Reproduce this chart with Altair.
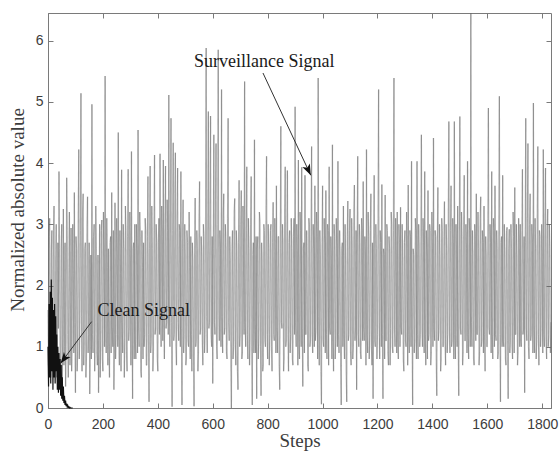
import altair as alt
import pandas as pd

# ---------------- data ----------------
STEP = 2  # steps between stored surveillance samples
surv_values = [
    1.6, 0.7, 2.8, 3.1, 0.9, 0.5, 2.5, 2.9, 0.6, 1.0, 2.9, 3.3, 1.1, 0.6, 2.4, 3.0, 0.5, 0.9, 2.7, 1.3,
    3.86, 2.6, 0.8, 0.4, 2.6, 3.0, 0.33, 1.2, 3.25, 0.7, 1.0, 2.7, 0.35, 1.0, 3.76, 2.9, 1.2, 0.5, 2.3, 3.2,
    0.7, 1.1, 2.94, 0.6, 1.1, 3.0, 2.2, 0.9, 3.52, 1.4, 0.25, 2.8, 2.6, 0.6, 0.9, 3.1, 4.22, 0.8, 1.3, 2.9,
    5.14, 1.5, 0.6, 3.2, 3.5, 0.7, 1.0, 2.6, 2.7, 0.5, 0.8, 3.0, 3.45, 0.9, 1.2, 2.7, 0.23, 1.0, 2.5, 0.8,
    4.96, 1.2, 0.9, 2.8, 3.0, 0.6, 1.4, 3.3, 2.6, 0.9, 0.7, 2.5, 0.25, 1.1, 3.0, 0.5, 1.1, 2.9, 3.07, 0.8,
    0.6, 3.2, 2.4, 1.0, 5.42, 1.6, 0.9, 3.1, 2.3, 0.7, 2.6, 1.0, 0.5, 2.7, 2.8, 0.9, 3.52, 1.3, 1.0, 2.9,
    0.3, 1.0, 3.35, 0.8, 1.2, 3.1, 2.5, 1.0, 4.5, 1.2, 0.7, 2.9, 2.2, 0.6, 3.89, 1.4, 0.9, 3.0, 2.6, 0.5,
    1.1, 3.3, 2.9, 0.9, 0.6, 2.8, 3.9, 1.1, 1.3, 3.2, 2.4, 0.7, 4.19, 1.5, 0.15, 2.6, 2.7, 0.8, 3.0, 1.1,
    0.8, 3.0, 2.5, 0.9, 4.54, 1.3, 1.0, 3.2, 2.8, 0.6, 0.5, 2.9, 2.3, 0.8, 2.7, 1.0, 1.2, 3.1, 2.9, 0.7,
    0.7, 2.8, 3.78, 1.2, 0.1, 2.6, 3.95, 0.9, 1.1, 3.3, 2.6, 0.6, 0.9, 2.9, 4.13, 1.2, 1.3, 3.0, 2.7, 0.8,
    0.6, 2.7, 3.1, 1.2, 4.15, 1.6, 1.0, 3.3, 2.8, 1.1, 4.05, 1.5, 0.8, 3.0, 3.95, 1.3, 1.4, 3.4, 2.9, 1.2,
    5.11, 1.7, 1.0, 3.2, 4.73, 1.4, 0.02, 2.9, 4.33, 1.1, 1.2, 3.5, 4.17, 1.0, 0.7, 3.1, 3.92, 1.4, 1.1, 3.0,
    2.9, 1.0, 3.86, 1.3, 0.05, 2.6, 3.4, 0.9, 1.2, 3.0, 2.5, 0.7, 0.8, 2.9, 2.7, 1.1, 1.0, 3.2, 2.3, 0.8,
    2.8, 1.2, 0.6, 2.7, 2.4, 0.9, 0.03, 2.5, 3.43, 1.0, 1.1, 2.9, 2.6, 0.6, 0.9, 3.1, 3.7, 1.2, 1.3, 2.8,
    2.5, 1.1, 0.7, 3.0, 2.8, 0.9, 1.2, 3.2, 5.88, 1.5, 0.9, 3.1, 4.84, 1.3, 1.4, 3.3, 4.77, 1.2, 1.0, 2.8,
    0.4, 2.6, 4.46, 1.4, 1.2, 3.4, 4.32, 1.0, 0.8, 3.0, 5.85, 1.6, 1.1, 2.9, 2.6, 1.0, 5.2, 1.5, 0.9, 3.1,
    3.5, 1.2, 1.3, 3.0, 2.7, 0.9, 0.8, 3.1, 4.73, 1.4, 1.1, 2.8, 2.4, 0.7, 0.0, 2.6, 2.9, 0.8, 1.0, 3.2,
    3.42, 1.1, 0.7, 2.9, 2.6, 0.6, 0.3, 2.7, 3.72, 1.0, 1.2, 3.0, 3.55, 0.8, 0.9, 3.3, 2.5, 1.2, 5.33, 1.4,
    1.0, 2.9, 3.94, 1.2, 0.8, 3.1, 2.6, 0.7, 1.1, 3.0, 3.78, 1.0, 0.05, 2.5, 2.7, 0.9, 4.38, 1.3, 0.9, 2.8,
    0.15, 2.6, 2.8, 0.8, 1.2, 3.2, 3.05, 1.0, 0.2, 2.7, 2.4, 0.6, 0.7, 3.0, 2.9, 1.1, 1.0, 3.3, 4.11, 1.2,
    0.8, 3.0, 2.6, 0.7, 1.2, 2.9, 3.0, 1.0, 0.6, 2.7, 3.36, 1.2, 1.1, 3.1, 2.5, 0.9, 3.63, 1.3, 0.9, 2.8,
    2.8, 0.7, 0.3, 2.6, 4.6, 1.4, 1.3, 3.0, 2.7, 0.6, 0.8, 3.2, 3.94, 1.0, 1.1, 2.9, 3.88, 1.2, 0.6, 2.7,
    2.9, 0.9, 1.2, 3.1, 2.6, 0.8, 0.7, 2.8, 3.1, 1.2, 4.92, 1.4, 1.0, 3.0, 2.5, 0.7, 4.05, 1.1, 0.8, 3.2,
    2.9, 1.0, 3.93, 1.3, 0.35, 2.6, 2.7, 0.9, 3.8, 1.2, 1.2, 2.9, 2.4, 0.7, 0.6, 3.1, 3.0, 1.0, 1.1, 2.8,
    4.27, 1.2, 0.9, 3.0, 2.6, 1.0, 3.63, 1.1, 1.3, 3.2, 2.8, 0.8, 5.39, 1.5, 0.7, 2.9, 2.5, 0.6, 0.06, 2.7,
    3.63, 1.1, 1.0, 3.1, 2.7, 0.9, 3.55, 1.2, 0.8, 3.0, 2.9, 0.7, 3.94, 1.3, 1.2, 2.8, 2.4, 0.8, 4.3, 1.1,
    0.6, 3.0, 2.8, 0.8, 1.1, 3.1, 2.6, 1.0, 4.03, 1.2, 0.9, 2.9, 2.5, 0.7, 0.05, 2.6, 2.7, 1.0, 3.3, 1.2,
    0.8, 3.0, 2.4, 0.6, 0.1, 2.8, 3.38, 1.1, 1.2, 2.9, 3.25, 0.9, 0.7, 3.1, 2.6, 0.8, 1.0, 3.2, 3.64, 1.1,
    1.3, 2.9, 0.3, 2.7, 4.11, 1.2, 1.0, 3.0, 2.7, 0.9, 0.8, 3.1, 2.9, 1.1, 3.7, 1.3, 1.1, 2.8, 2.5, 0.7,
    4.22, 1.2, 0.9, 3.2, 2.8, 0.8, 1.2, 2.9, 3.5, 1.0, 0.7, 2.7, 0.15, 2.5, 3.8, 1.1, 1.0, 3.0, 2.6, 0.8,
    1.2, 3.1, 5.2, 1.4, 0.8, 2.9, 2.7, 1.0, 3.65, 1.2, 0.15, 2.6, 2.5, 0.8, 3.48, 1.1, 1.1, 3.0, 2.9, 0.9,
    0.7, 2.8, 2.6, 0.7, 1.3, 3.2, 3.0, 1.0, 0.9, 2.9, 5.39, 1.3, 1.0, 3.1, 2.5, 0.9, 3.2, 1.1, 0.8, 3.0,
    2.7, 1.0, 3.28, 1.3, 1.2, 3.0, 2.4, 0.8, 0.6, 2.7, 2.9, 1.1, 1.0, 3.2, 2.6, 0.7, 3.64, 1.2, 0.9, 2.9,
    2.8, 1.0, 4.03, 1.3, 0.05, 2.6, 2.5, 0.9, 1.1, 3.1, 2.9, 0.8, 4.03, 1.2, 0.8, 3.0, 2.6, 1.0, 1.2, 2.8,
    4.46, 1.3, 1.0, 3.1, 2.7, 0.9, 3.86, 1.2, 0.7, 2.9, 2.5, 0.8, 3.55, 1.1, 1.2, 3.0, 2.9, 0.7, 0.9, 3.2,
    2.6, 1.0, 4.41, 1.3, 1.1, 2.9, 2.8, 0.8, 0.2, 2.7, 3.6, 1.1, 1.3, 3.0, 2.5, 0.6, 0.8, 3.1, 2.9, 1.0,
    1.0, 2.8, 3.37, 1.1, 0.7, 3.0, 2.6, 0.9, 1.2, 3.2, 4.68, 1.3, 0.9, 2.9, 3.63, 1.0, 1.1, 3.1, 2.7, 0.8,
    4.68, 1.2, 0.8, 3.0, 2.5, 1.0, 3.3, 1.1, 0.2, 2.6, 4.76, 1.3, 1.2, 3.2, 2.8, 0.7, 0.9, 3.0, 3.8, 1.1,
    1.1, 3.0, 2.6, 0.9, 4.03, 1.2, 0.8, 3.1, 2.9, 1.0, 6.45, 1.4, 1.0, 2.9, 2.5, 0.8, 0.7, 3.0, 2.8, 1.1,
    3.5, 1.2, 1.2, 3.2, 2.6, 0.7, 0.9, 3.1, 3.45, 1.0, 1.1, 2.9, 2.7, 0.9, 3.3, 1.2, 0.6, 2.8, 2.5, 1.0,
    1.0, 3.1, 4.9, 1.3, 1.2, 3.0, 2.7, 0.9, 3.86, 1.2, 0.8, 3.1, 2.9, 1.0, 3.63, 1.2, 1.1, 2.9, 2.6, 0.8,
    0.9, 3.2, 5.09, 1.2, 0.1, 2.7, 2.8, 1.0, 3.8, 1.1, 1.0, 3.0, 2.5, 0.8, 0.7, 2.9, 2.95, 1.1, 0.15, 2.6,
    2.92, 0.9, 1.1, 3.0, 2.6, 1.0, 0.8, 3.2, 2.8, 0.9, 3.6, 1.2, 1.2, 3.0, 2.5, 0.7, 0.9, 3.1, 2.7, 1.0,
    3.0, 1.1, 1.0, 2.9, 3.9, 1.2, 1.3, 2.8, 0.25, 2.7, 4.73, 1.3, 1.1, 3.1, 4.32, 1.0, 0.8, 3.0, 3.5, 1.1,
    1.2, 3.0, 2.7, 0.9, 4.98, 1.3, 0.9, 3.1, 2.6, 0.8, 1.1, 3.2, 4.27, 1.2, 0.7, 2.9, 2.8, 1.0, 1.3, 3.0,
    2.5, 0.9, 4.22, 1.2, 1.0, 3.1, 3.92, 1.1, 0.8, 2.9, 3.25, 1.0, 1.2, 3.0, 2.6, 0.9, 1.4,
]

CLEAN_STEP = 2
clean_values = [
    1.0, 0.35, 1.7, 0.5, 1.9, 0.4, 2.1, 0.6, 1.8, 0.3, 1.6, 0.5, 1.7, 0.4, 1.5, 0.6,
    1.2, 0.3, 1.0, 0.25, 0.9, 0.3, 0.8, 0.2, 0.7, 0.15, 0.5, 0.12,
    0.35, 0.08, 0.2, 0.05, 0.12, 0.03, 0.07, 0.02, 0.04, 0.01, 0.02, 0.0, 0.01, 0.0, 0.0, 0.0, 0.0, 0.0,
]

x_ticks = [0, 200, 400, 600, 800, 1000, 1200, 1400, 1600, 1800]
y_ticks = [0, 1, 2, 3, 4, 5, 6]
x_domain = [0, 1832]
y_domain = [0, 6.45]
x_title = "Steps"
y_title = ["Normalized absolute value"]

ann_labels = ["Surveillance Signal", "Clean Signal"]
ann_x = [532, 180]
ann_y = [5.65, 1.58]
arrow_x0 = [783, 159]
arrow_y0 = [5.47, 1.41]
arrow_x1 = [957, 46]
arrow_y1 = [3.80, 0.73]
arrow_angle = [155, 217]

# ---------------- tables ----------------
surv = pd.DataFrame({"step": [i * STEP for i in range(len(surv_values))], "value": surv_values})
surv["prev_step"] = surv["step"].shift(1)
surv["prev_value"] = surv["value"].shift(1)
surv = surv.dropna()

clean = pd.DataFrame({"step": [i * CLEAN_STEP for i in range(len(clean_values))], "value": clean_values})
ann = pd.DataFrame({"label": ann_labels, "x": ann_x, "y": ann_y})
arrows = pd.DataFrame({"x0": arrow_x0, "y0": arrow_y0, "x1": arrow_x1, "y1": arrow_y1, "angle": arrow_angle})
tick_df = pd.DataFrame({"x": [0], "y": [0]})
ytitle_df = pd.DataFrame({"label": y_title})

# ---------------- style ----------------
AXIS_GRAY = "#7a7a7a"
LABEL_GRAY = "#3c3c3c"
SANS = "Liberation Sans"
SERIF = "Liberation Serif"

xs = alt.Scale(domain=x_domain, nice=False, zero=False)
ys = alt.Scale(domain=y_domain, nice=False, zero=False)

x_main = alt.Axis(values=x_ticks, format="d", ticks=False, tickSize=0, labelFont=SANS, labelFontSize=14,
                  labelColor=LABEL_GRAY, labelPadding=9, domainColor=AXIS_GRAY, grid=False,
                  title=x_title, titleFont=SERIF, titleFontSize=19, titleFontWeight="normal",
                  titleColor=LABEL_GRAY, titlePadding=0, labelFlush=False)
y_main = alt.Axis(values=y_ticks, format="d", ticks=False, tickSize=0, labelFont=SANS, labelFontSize=14,
                  labelColor=LABEL_GRAY, labelPadding=5, domainColor=AXIS_GRAY, grid=False,
                  title="", labelFlush=False)

surv_layer = alt.Chart(surv).mark_rule(color="#666666", opacity=0.48, strokeWidth=1.2).encode(
    x=alt.X("prev_step:Q", scale=xs, axis=x_main),
    x2="step:Q",
    y=alt.Y("prev_value:Q", scale=ys, axis=y_main),
    y2="value:Q",
)

clean_layer = alt.Chart(clean).mark_line(color="#111111", strokeWidth=1.2).encode(
    x=alt.X("step:Q", scale=xs, axis=None),
    y=alt.Y("value:Q", scale=ys, axis=None),
)

arrow_lines = alt.Chart(arrows).mark_rule(color="#333333", strokeWidth=1).encode(
    x=alt.X("x0:Q", scale=xs, axis=None),
    y=alt.Y("y0:Q", scale=ys, axis=None),
    x2="x1:Q",
    y2="y1:Q",
)

arrow_heads = alt.Chart(arrows).mark_point(
    shape="M0,0L-0.6,1.6L0,1.2L0.6,1.6Z", filled=True, color="#111111", size=190, opacity=1
).encode(
    x=alt.X("x1:Q", scale=xs, axis=None),
    y=alt.Y("y1:Q", scale=ys, axis=None),
    angle=alt.Angle("angle:Q", scale=None),
)

ann_text = alt.Chart(ann).mark_text(align="left", baseline="middle", font=SERIF, fontSize=18,
                                    color="#1a1a1a").encode(
    x=alt.X("x:Q", scale=xs, axis=None),
    y=alt.Y("y:Q", scale=ys, axis=None),
    text="label:N",
)

# y-axis title drawn as rotated text beside the axis
ytitle_layer = alt.Chart(ytitle_df).mark_text(
    align="center", baseline="middle", angle=270, font=SERIF, fontSize=19, color=LABEL_GRAY
).encode(
    x=alt.value(-30),
    y=alt.value(197),
    text="label:N",
)

def tick_axis(vals, orient):
    return alt.Axis(values=vals, orient=orient, offset=-5, tickSize=5, labels=False, domain=False,
                    grid=False, tickColor=AXIS_GRAY, title="")

ticks_bl = alt.Chart(tick_df).mark_point(opacity=0).encode(
    x=alt.X("x:Q", scale=xs, axis=tick_axis(x_ticks, "bottom")),
    y=alt.Y("y:Q", scale=ys, axis=tick_axis(y_ticks, "left")),
)
ticks_tr = alt.Chart(tick_df).mark_point(opacity=0).encode(
    x=alt.X("x:Q", scale=xs, axis=tick_axis(x_ticks, "top")),
    y=alt.Y("y:Q", scale=ys, axis=tick_axis(y_ticks, "right")),
)

chart = alt.layer(
    surv_layer, clean_layer, ticks_bl, ticks_tr, arrow_lines, arrow_heads, ann_text, ytitle_layer
).resolve_axis(x="independent", y="independent").properties(
    width=503, height=395,
    autosize=alt.AutoSizeParams(type="none"),
    padding={"left": 48, "top": 13, "right": 9, "bottom": 47},
    background="white",
).configure_view(
    stroke=AXIS_GRAY, strokeWidth=1
).configure_axis(
    titleFont=SERIF, labelFont=SANS
)

chart.save("out.html", embed_options={"renderer": "svg", "actions": False})
